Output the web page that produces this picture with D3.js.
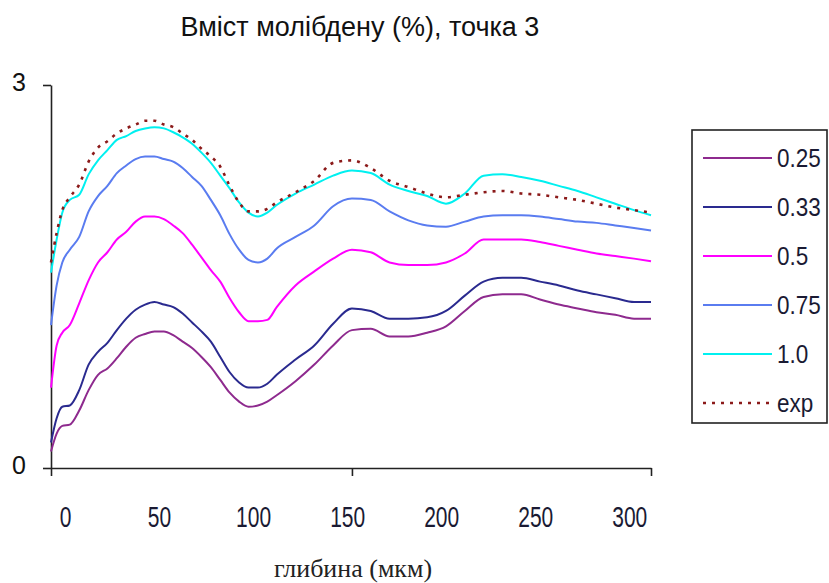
<!DOCTYPE html>
<html>
<head>
    <style>
        body { margin: 0; background: #fff; }
        svg { display: block; }
        .title { font: 27px "Liberation Sans", Arial, sans-serif; fill: #111; text-anchor: middle; }
        .xtitle { font: 26px "Liberation Serif", "Times New Roman", serif; fill: #222; text-anchor: middle; }
        .ylab { font: 25px "Liberation Sans", Arial, sans-serif; fill: #111; text-anchor: middle; }
        .xlab text { font: 30px "Liberation Sans", Arial, sans-serif; fill: #1a1a33; }
        .axis path, .axis line { stroke: #222; stroke-width: 1.6; }
        .legend text { font: 25px "Liberation Sans", Arial, sans-serif; fill: #1a1a33; }
    </style>
    <script src="https://d3js.org/d3.v7.min.js"></script>
</head>
<body>
    <svg width="829" height="583"></svg>
    <script>

        // depth (мкм)
        var depths = [0, 3, 6, 10, 15, 20, 25, 30, 35, 40, 45, 50, 55, 60, 65, 70, 75, 80, 85, 90, 95, 100,
                      105, 110, 115, 120, 130, 140, 150, 160, 170, 180, 190, 200, 210, 220, 230, 240, 250,
                      260, 270, 280, 290, 300, 310, 319];

        var s025 = [0.13, 0.27, 0.33, 0.34, 0.45, 0.61, 0.73, 0.78, 0.86, 0.95, 1.02, 1.05, 1.07, 1.07, 1.04, 0.99,
                    0.94, 0.87, 0.79, 0.69, 0.59, 0.52, 0.48, 0.49, 0.52, 0.57, 0.68, 0.81, 0.96, 1.08, 1.09, 1.03,
                    1.03, 1.06, 1.11, 1.23, 1.34, 1.36, 1.36, 1.32, 1.28, 1.25, 1.22, 1.20, 1.17, 1.17];
        var s033 = [0.20, 0.39, 0.48, 0.49, 0.61, 0.81, 0.91, 0.98, 1.08, 1.17, 1.24, 1.28, 1.30, 1.28, 1.26, 1.21,
                    1.14, 1.07, 0.99, 0.87, 0.75, 0.67, 0.63, 0.63, 0.66, 0.73, 0.85, 0.96, 1.13, 1.25, 1.23, 1.17,
                    1.17, 1.18, 1.23, 1.35, 1.46, 1.49, 1.49, 1.46, 1.43, 1.39, 1.36, 1.33, 1.30, 1.30];
        var s05 = [0.63, 0.96, 1.06, 1.12, 1.29, 1.47, 1.61, 1.69, 1.79, 1.85, 1.93, 1.97, 1.97, 1.95, 1.90, 1.84,
                   1.75, 1.65, 1.55, 1.46, 1.33, 1.22, 1.15, 1.15, 1.16, 1.26, 1.43, 1.54, 1.64, 1.71, 1.69, 1.61,
                   1.59, 1.59, 1.61, 1.68, 1.79, 1.79, 1.79, 1.77, 1.74, 1.71, 1.68, 1.66, 1.64, 1.62];
        var s075 = [1.12, 1.43, 1.61, 1.71, 1.81, 2.01, 2.13, 2.21, 2.31, 2.37, 2.42, 2.44, 2.44, 2.42, 2.40, 2.35,
                    2.28, 2.21, 2.10, 1.98, 1.83, 1.71, 1.63, 1.61, 1.64, 1.72, 1.81, 1.90, 2.05, 2.11, 2.10, 2.01,
                    1.94, 1.90, 1.89, 1.93, 1.97, 1.98, 1.98, 1.97, 1.95, 1.93, 1.92, 1.90, 1.88, 1.86];
        var s10 = [1.53, 1.79, 2.00, 2.10, 2.14, 2.30, 2.41, 2.49, 2.57, 2.60, 2.64, 2.66, 2.67, 2.66, 2.63, 2.59,
                   2.54, 2.47, 2.39, 2.29, 2.19, 2.08, 2.00, 1.97, 2.00, 2.06, 2.15, 2.22, 2.29, 2.33, 2.31, 2.22,
                   2.17, 2.13, 2.07, 2.15, 2.29, 2.30, 2.28, 2.25, 2.21, 2.17, 2.12, 2.07, 2.02, 1.98];
        var sExp = [1.61, 1.84, 2.02, 2.12, 2.22, 2.40, 2.51, 2.56, 2.62, 2.66, 2.69, 2.72, 2.72, 2.69, 2.67, 2.62,
                    2.57, 2.50, 2.44, 2.36, 2.21, 2.08, 2.01, 2.01, 2.03, 2.08, 2.16, 2.25, 2.39, 2.41, 2.35, 2.25,
                    2.20, 2.15, 2.12, 2.14, 2.16, 2.17, 2.15, 2.14, 2.12, 2.10, 2.07, 2.04, 2.02, 2.00];

        var seriesNames = ["0.25", "0.33", "0.5", "0.75", "1.0", "exp"];
        var seriesValues = [s025, s033, s05, s075, s10, sExp];
        var colors = ["#8e2a8e", "#2a2a8f", "#ff00ff", "#5a7cf0", "#00f0f0", "#8b1a1a"];

        var xTicks = [0, 50, 100, 150, 200, 250, 300];
        var yTicks = [0, 3];

        var svg = d3.select("svg");

        var x = d3.scaleLinear().domain([0, 319]).range([51, 651]);
        var y = d3.scaleLinear().domain([0, 3]).range([468, 85]);

        var line = d3.line()
                     .x(function(d, i) { return x(depths[i]); })
                     .y(function(d) { return y(d); })
                     .curve(d3.curveMonotoneX);

        // axes
        svg.append("g")
           .attr("class", "axis")
           .attr("transform", "translate(51,0)")
           .call(d3.axisLeft(y).tickValues(yTicks).tickSizeInner(8).tickSizeOuter(0).tickFormat(""));

        svg.append("g")
           .attr("class", "axis")
           .attr("transform", "translate(0,468)")
           .call(d3.axisBottom(x).tickValues([0, 160, 319]).tickSizeInner(8).tickSizeOuter(0).tickFormat(""));

        // category-style labels, sitting between the tick marks
        var xl = svg.append("g")
           .attr("class", "xlab")
           .attr("transform", "translate(0,468)")
           .call(d3.axisBottom(x).tickValues(xTicks).tickSize(0).tickPadding(0));
        xl.select(".domain").remove();
        xl.selectAll("text")
          .attr("y", 59)
          .attr("dy", 0)
          .attr("transform", "translate(14,0) scale(0.7,1)");

        svg.selectAll(".ylab")
           .data(yTicks)
           .enter().append("text")
           .attr("class", "ylab")
           .attr("x", 19)
           .attr("y", function(d) { return y(d) + 6; })
           .text(function(d) { return d; });

        // curves
        svg.selectAll(".series")
           .data(seriesValues)
           .enter().append("path")
           .attr("class", "series")
           .attr("fill", "none")
           .attr("stroke", function(d, i) { return colors[i]; })
           .attr("stroke-width", function(d, i) { return i == 5 ? 2.6 : 2; })
           .attr("stroke-dasharray", function(d, i) { return i == 5 ? "3,6" : null; })
           .attr("d", line);

        // titles
        svg.append("text")
           .attr("class", "title")
           .attr("x", 360)
           .attr("y", 36)
           .text("Вміст молібдену (%), точка 3");

        svg.append("text")
           .attr("class", "xtitle")
           .attr("x", 353)
           .attr("y", 577)
           .text("глибина (мкм)");

        // legend
        var legend = svg.append("g").attr("class", "legend");
        legend.append("rect")
              .attr("x", 692).attr("y", 130)
              .attr("width", 135).attr("height", 293)
              .attr("fill", "#fff")
              .attr("stroke", "#222")
              .attr("stroke-width", 1.6);

        var item = legend.selectAll(".item")
                         .data(seriesNames)
                         .enter().append("g")
                         .attr("class", "item")
                         .attr("transform", function(d, i) { return "translate(0," + (158 + i * 49) + ")"; });

        item.append("line")
            .attr("x1", 703).attr("x2", 772)
            .attr("stroke", function(d, i) { return colors[i]; })
            .attr("stroke-width", function(d, i) { return i == 5 ? 2.6 : 2; })
            .attr("stroke-dasharray", function(d, i) { return i == 5 ? "3,6" : null; });

        item.append("text")
            .attr("transform", "translate(777,0) scale(0.9,1)")
            .attr("dy", "0.36em")
            .text(function(d) { return d; });
    </script>
</body>
</html>
